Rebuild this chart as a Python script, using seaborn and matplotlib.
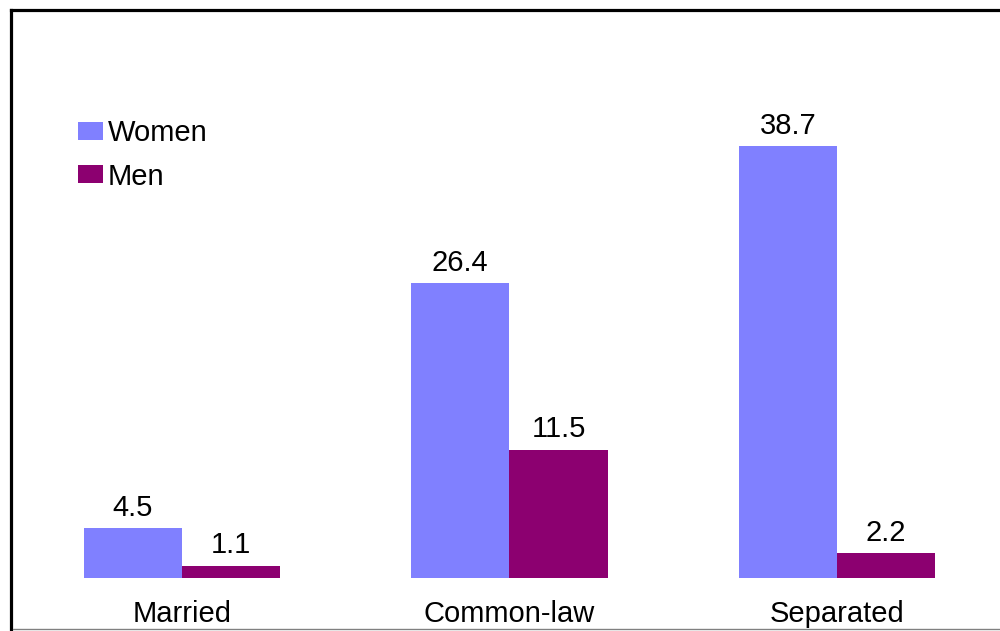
import matplotlib
matplotlib.use("Agg")
import matplotlib.pyplot as plt
from matplotlib.lines import Line2D
import seaborn as sns
import pandas as pd

categories = ["Married", "Common-law", "Separated"]
women = [4.5, 26.4, 38.7]
men = [1.1, 11.5, 2.2]
series = ["Women", "Men"]
colors = ["#8080FF", "#8C0070"]

df = pd.DataFrame({
    "status": categories * 2,
    "sex": [series[0]] * 3 + [series[1]] * 3,
    "rate": women + men,
})

sns.set_theme(style="white")
plt.rcParams["font.family"] = ["Liberation Sans", "DejaVu Sans"]
plt.rcParams["text.color"] = "black"

W, H = 1000, 631
fig = plt.figure(figsize=(W / 100, H / 100), dpi=100)
fig.patch.set_facecolor("white")

# axes box in pixel terms: x 12..997, y 11..578 (top to bottom)
ax = fig.add_axes([12 / W, (H - 578) / H, (997 - 12) / W, (578 - 11) / H])
sns.barplot(data=df, x="status", y="rate", hue="sex", order=categories,
            hue_order=series, palette=colors, width=0.6, saturation=1,
            errorbar=None, ax=ax, linewidth=0)

ax.set_xlim(-0.519, 2.489)
ax.set_ylim(0, 50.8)
for s in ax.spines.values():
    s.set_visible(False)
ax.set_yticks([])
ax.set_xlabel("")
ax.set_ylabel("")
ax.tick_params(axis="x", length=0, pad=15.5, labelsize=21, colors="black")

for cont in ax.containers:
    ax.bar_label(cont, fmt="%.1f", padding=4.5, fontsize=21, color="black")

leg = ax.legend(loc="upper left", bbox_to_anchor=(0.055, 0.83), frameon=False,
                fontsize=21, handlelength=0.86, handleheight=0.59,
                handletextpad=0.17, labelspacing=0.53, borderaxespad=0)
for t in leg.get_texts():
    t.set_color("black")

# outer frame: heavy black rules on the left and top, thin grey rule at the foot
fig.add_artist(Line2D([10.5 / W, 10.5 / W], [0, 1 - 9.5 / H], color="black",
                      linewidth=2.3, transform=fig.transFigure,
                      solid_capstyle="projecting"))
fig.add_artist(Line2D([10.5 / W, 1], [1 - 9.5 / H, 1 - 9.5 / H], color="black",
                      linewidth=2.3, transform=fig.transFigure,
                      solid_capstyle="projecting"))
fig.add_artist(Line2D([13 / W, 1], [1 - 629 / H, 1 - 629 / H], color="#808080",
                      linewidth=1.0, transform=fig.transFigure))

fig.savefig("out.png", dpi=100, facecolor="white")
